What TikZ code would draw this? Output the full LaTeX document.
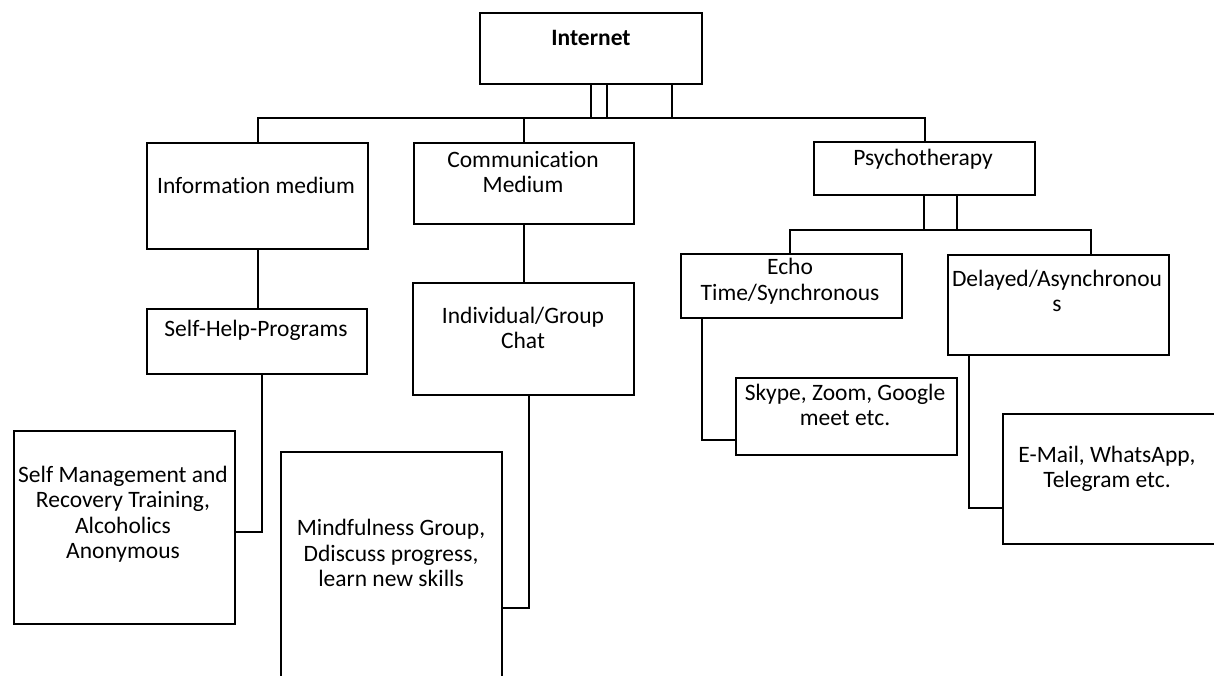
\documentclass[tikz,border=0pt]{standalone}
\usepackage{fontspec}
\setmainfont{Carlito}[Ligatures=NoCommon]
\usetikzlibrary{calc}
\tikzset{
  boxshape/.style={draw, line width=2.2pt, inner sep=0pt, anchor=north west, rectangle},
  lbl/.style={align=center, inner sep=0pt, font=\fontsize{23.5}{25.5}\selectfont},
  conn/.style={line width=2.2pt, line cap=rect},
}
\begin{document}
\begin{tikzpicture}[x=1pt,y=-1pt]
\useasboundingbox[fill=white] (0,0) rectangle (1214,675);
\clip (0,0) rectangle (1214,675);
% boxes
\node[boxshape, minimum width=222pt, minimum height=71pt] (internet) at (479,12) {};
\node[boxshape, minimum width=221pt, minimum height=106pt] (info) at (146,142) {};
\node[boxshape, minimum width=220pt, minimum height=81pt] (comm) at (413,142) {};
\node[boxshape, minimum width=221pt, minimum height=53pt] (psych) at (813,141) {};
\node[boxshape, minimum width=220pt, minimum height=65pt] (selfhelp) at (146,308) {};
\node[boxshape, minimum width=221pt, minimum height=112pt] (chat) at (412,282) {};
\node[boxshape, minimum width=221pt, minimum height=64pt] (echo) at (680,253) {};
\node[boxshape, minimum width=221pt, minimum height=100pt] (delayed) at (947,254) {};
\node[boxshape, minimum width=221pt, minimum height=77pt] (skype) at (735,377) {};
\node[boxshape, minimum width=230pt, minimum height=130pt] (email) at (1002,413) {};
\node[boxshape, minimum width=221pt, minimum height=193pt] (selfmgmt) at (13,430) {};
\node[boxshape, minimum width=221pt, minimum height=250pt] (mindful) at (280,451) {};
% texts
\node[lbl, font=\fontsize{23.5}{25.5}\selectfont\bfseries] (tinternet) at (591,38) {Internet};
\node[lbl] (tinfo) at (256,185) {Information medium};
\node[lbl] (tcomm) at (523,172) {Communication\\Medium};
\node[lbl] (tpsych) at (923,159) {Psychotherapy};
\node[lbl] (tselfhelp) at (256,330) {Self-Help-Programs};
\node[lbl] (tchat) at (523,328) {Individual/Group\\Chat};
\node[lbl] (techo) at (790,281) {Echo\\Time/Synchronous};
\node[lbl] (tdelayed) at (1057,291) {Delayed/Asynchronou\\s};
\node[lbl] (tskype) at (845,405) {Skype, Zoom, Google\\meet etc.};
\node[lbl] (temail) at (1107,469) {E-Mail, WhatsApp,\\Telegram etc.};
\node[lbl] (tselfmgmt) at (123,514) {Self Management and\\Recovery Training,\\Alcoholics\\Anonymous};
\node[lbl] (tmindful) at (391,553) {Mindfulness Group,\\Ddiscuss progress,\\learn new skills};
% helper coordinates
\coordinate (bar) at (0,118);
\coordinate (pbar) at (0,230);
\coordinate (i1) at (591,0);
\coordinate (i2) at (607,0);
\coordinate (i3) at (672,0);
\coordinate (p1) at (924,0);
\coordinate (p2) at (957,0);
\coordinate (e1) at (790,0);
\coordinate (d1) at (1091,0);
\coordinate (shx) at (262,0);
\coordinate (chx) at (529,0);
\coordinate (ecx) at (702,0);
\coordinate (dlx) at (969,0);
\coordinate (smy) at (0,532);
\coordinate (mfy) at (0,608);
\coordinate (sky) at (0,440);
\coordinate (emy) at (0,508);
% connectors
\draw[conn] (internet.south -| i1) -- (bar -| i1);
\draw[conn] (internet.south -| i2) -- (bar -| i2);
\draw[conn] (internet.south -| i3) -- (bar -| i3);
\draw[conn] (info.north) |- (psych.north |- bar) -- (psych.north);
\draw[conn] (comm.north) -- (comm.north |- bar);
\draw[conn] (info.south) -- (selfhelp.north -| info.south);
\draw[conn] (comm.south) -- (chat.north -| comm.south);
\draw[conn] (selfhelp.south -| shx) |- (selfmgmt.east |- smy);
\draw[conn] (chat.south -| chx) |- (mindful.east |- mfy);
\draw[conn] (psych.south -| p1) -- (pbar -| p1);
\draw[conn] (psych.south -| p2) -- (pbar -| p2);
\draw[conn] (echo.north -| e1) -- (pbar -| e1) -- (pbar -| d1) -- (delayed.north -| d1);
\draw[conn] (echo.south -| ecx) |- (skype.west |- sky);
\draw[conn] (delayed.south -| dlx) |- (email.west |- emy);
\end{tikzpicture}
\end{document}
